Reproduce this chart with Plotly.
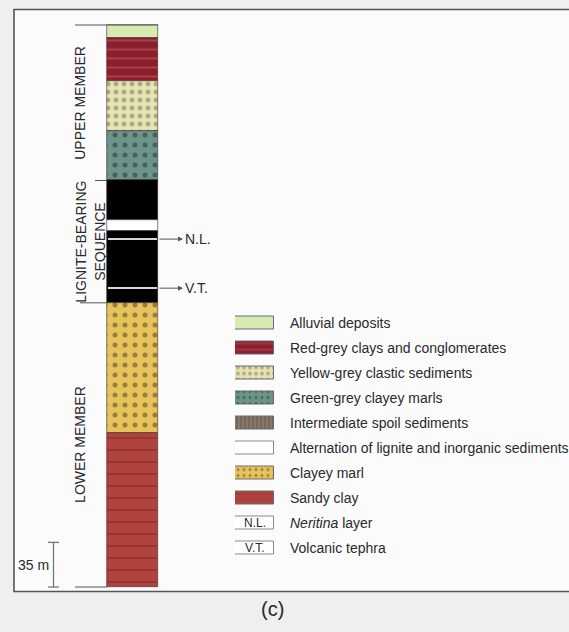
import plotly.graph_objects as go

# ---------------- data ----------------
layer_names = ["Alluvial deposits", "Red-grey clays and conglomerates", "Yellow-grey clastic sediments",
               "Green-grey clayey marls", "Lignite", "Alternation of lignite and inorganic sediments",
               "Lignite", "Clayey marl", "Sandy clay"]
layer_thickness_m = [10, 34, 39, 39, 31, 9, 56, 102, 121]

member_labels = ["UPPER MEMBER", "LIGNITE-BEARING<br>SEQUENCE", "LOWER MEMBER"]
member_thickness_m = [122, 96, 223]

marker_labels = ["N.L.", "V.T."]
marker_depth_m = [168, 206.5]
marker_thickness_m = 1.4

scale_bar_m = 35

legend_labels = ["Alluvial deposits", "Red-grey clays and conglomerates", "Yellow-grey clastic sediments",
                 "Green-grey clayey marls", "Intermediate spoil sediments",
                 "Alternation of lignite and inorganic sediments", "Clayey marl", "Sandy clay",
                 "<i>Neritina</i> layer", "Volcanic tephra"]
legend_abbrev = ["", "", "", "", "", "", "", "", "N.L.", "V.T."]

# ---------------- styles ----------------
STYLE = {
    "Alluvial deposits": dict(bg="#d6ebb3", fg="#d6ebb3", shape="", size=8, sol=0.3),
    "Red-grey clays and conglomerates": dict(bg="#8a1f2e", fg="#cf5f6c", shape="-", size=9, sol=0.22),
    "Yellow-grey clastic sediments": dict(bg="#e6e4b4", fg="#6f6e45", shape=".", size=8, sol=0.3),
    "Green-grey clayey marls": dict(bg="#6d948b", fg="#1f302a", shape=".", size=10, sol=0.2),
    "Intermediate spoil sediments": dict(bg="#86786a", fg="#4e4236", shape="|", size=4, sol=0.3),
    "Lignite": dict(bg="#000000", fg="#000000", shape="", size=8, sol=0.3),
    "Alternation of lignite and inorganic sediments": dict(bg="#ffffff", fg="#ffffff", shape="", size=8, sol=0.3),
    "Clayey marl": dict(bg="#e7c35c", fg="#4a3c1c", shape=".", size=10, sol=0.2),
    "Sandy clay": dict(bg="#b1433f", fg="#6e1c1f", shape="-", size=12, sol=0.12),
    "<i>Neritina</i> layer": dict(bg="#ffffff", fg="#ffffff", shape="", size=8, sol=0.3),
    "Volcanic tephra": dict(bg="#ffffff", fg="#ffffff", shape="", size=8, sol=0.3),
}

W, H = 569, 632
TOP_PX = 25.0
PX_PER_M = 1.2744
COL_X, COL_W = 132.5, 51
TXT = "#2a2a2a"
FONT = "Arial, Liberation Sans, sans-serif"
FS = 14

fig = go.Figure()

# column layers
tops = []
d = 0
for t in layer_thickness_m:
    tops.append(d)
    d += t
total_depth = d

for name, top, th in zip(layer_names, tops, layer_thickness_m):
    s = STYLE[name]
    fig.add_trace(go.Bar(
        x=[COL_X], y=[th], base=[top], width=COL_W,
        marker=dict(color=s["bg"], line=dict(color="#3a2a2a", width=0.6),
                    pattern=dict(shape=s["shape"], fgcolor=s["fg"], bgcolor=s["bg"],
                                 size=s["size"], solidity=s["sol"])),
        showlegend=False, hoverinfo="skip"))

# thin marker beds (N.L., V.T.)
fig.add_trace(go.Bar(
    x=[COL_X] * len(marker_depth_m), y=[marker_thickness_m] * len(marker_depth_m),
    base=[m - marker_thickness_m / 2 for m in marker_depth_m], width=COL_W - 2,
    marker=dict(color="#d9d9d9", line=dict(width=0)), showlegend=False, hoverinfo="skip"))

# arrows and labels for marker beds
for lab, dep in zip(marker_labels, marker_depth_m):
    fig.add_annotation(x=183, y=dep, ax=COL_X + COL_W / 2, ay=dep, axref="x", ayref="y",
                       xref="x", yref="y", text="", showarrow=True, arrowhead=2,
                       arrowsize=1, arrowwidth=1, arrowcolor="#555555", standoff=0)
    fig.add_annotation(x=183, y=dep, xref="x", yref="y", text=lab, showarrow=False,
                       xanchor="left", yanchor="middle", font=dict(size=FS, color=TXT, family=FONT))

# member labels and boundary ticks
mtop = 0
boundary_x0 = [75, 95, 80, 75]
for i, (lab, th) in enumerate(zip(member_labels, member_thickness_m)):
    cx = 90 if "<br>" in lab else 80
    fig.add_annotation(x=cx, y=mtop + th / 2, xref="x", yref="y", text=lab, showarrow=False,
                       textangle=-90, font=dict(size=FS, color=TXT, family=FONT),
                       xanchor="center", yanchor="middle")
    mtop += th
bounds = [0]
for th in member_thickness_m:
    bounds.append(bounds[-1] + th)
for i, b in enumerate(bounds):
    x1 = COL_X + COL_W / 2 if i == 0 else COL_X - COL_W / 2
    fig.add_shape(type="line", xref="x", yref="y", x0=boundary_x0[i], x1=x1, y0=b, y1=b,
                  line=dict(color="#555555", width=1))

# scale bar
sb_top = total_depth - scale_bar_m
fig.add_trace(go.Scatter(
    x=[48, 59, None, 53.5, 53.5, None, 48, 59],
    y=[sb_top, sb_top, None, sb_top, total_depth, None, total_depth, total_depth],
    mode="lines", line=dict(color="#777777", width=1.3), showlegend=False, hoverinfo="skip"))
fig.add_annotation(x=51, y=total_depth - scale_bar_m / 2, xref="x", yref="y",
                   text=f"{scale_bar_m} m", showarrow=False, xanchor="right",
                   font=dict(size=FS, color=TXT, family=FONT))

# legend swatches (second axis pair)
for lab in legend_labels:
    s = STYLE[lab]
    border = "#8a8a8a" if s["bg"] == "#ffffff" else "#6a6a6a"
    fig.add_trace(go.Bar(
        x=[1], y=[lab], base=[0], orientation="h", width=0.5, xaxis="x2", yaxis="y2",
        marker=dict(color=s["bg"], line=dict(color=border, width=1),
                    pattern=dict(shape=s["shape"], fgcolor=s["fg"], bgcolor=s["bg"],
                                 size=min(s["size"], 6), solidity=s["sol"])),
        showlegend=False, hoverinfo="skip"))
for i, ab in enumerate(legend_abbrev):
    if ab:
        fig.add_annotation(x=0.5, y=i, xref="x2", yref="y2", text=ab, showarrow=False,
                           font=dict(size=12, color=TXT, family=FONT))

# frame and caption
fig.add_shape(type="rect", xref="paper", yref="paper", x0=14 / W, x1=1.01,
              y0=1 - 591.5 / H, y1=1 - 9.5 / H, line=dict(color="#555555", width=1.6),
              fillcolor="#fbfbfb", layer="below")
fig.add_annotation(x=272 / W, y=1 - 609 / H, xref="paper", yref="paper", text="(c)",
                   showarrow=False, yanchor="middle", xanchor="center",
                   font=dict(size=20, color=TXT, family=FONT))

rows = len(legend_labels)
row_top_px, row_step = 323 - 12.5, 25
fig.update_layout(
    width=W, height=H, margin=dict(l=0, r=0, t=0, b=0),
    paper_bgcolor="#efefef", plot_bgcolor="rgba(0,0,0,0)",
    barmode="overlay", bargap=0, showlegend=False,
    xaxis=dict(range=[0, W], visible=False, domain=[0, 1]),
    yaxis=dict(range=[(H - TOP_PX) / PX_PER_M, -TOP_PX / PX_PER_M], visible=False, domain=[0, 1]),
    xaxis2=dict(range=[0, 1], domain=[235 / W, 274 / W], visible=False, anchor="y2"),
    yaxis2=dict(type="category", categoryorder="array", categoryarray=legend_labels,
                range=[rows - 0.5, -0.5],
                domain=[1 - (row_top_px + rows * row_step) / H, 1 - row_top_px / H],
                anchor="x2", side="right", showgrid=False, zeroline=False, showline=False,
                ticks="", ticklabelstandoff=15,
                tickfont=dict(size=FS, color=TXT, family=FONT)),
    font=dict(family=FONT),
)

fig.write_html("out.html", config={"displayModeBar": False},
               post_script="document.body.style.margin='0';document.body.style.overflow='hidden';")
